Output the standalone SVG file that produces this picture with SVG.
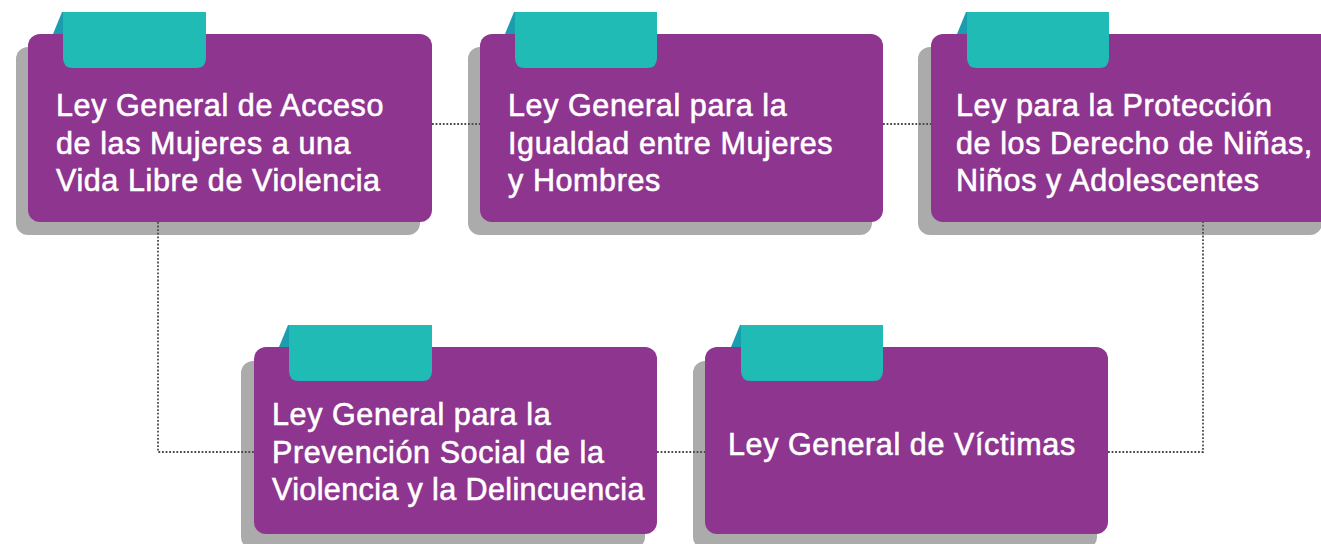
<svg xmlns="http://www.w3.org/2000/svg" width="1321" height="544" viewBox="0 0 1321 544">
<style>
.shadow{fill:#ababab}
.box{fill:#8e3590}
.tab{fill:#20bbb4}
.fold{fill:#1b9db0}
.conn{fill:none;stroke:#4a4a4a;stroke-width:1.8;stroke-dasharray:1.8 1.8}
.t{font-family:"Liberation Sans",Arial,sans-serif;font-size:30.5px;letter-spacing:0.6px;fill:#fff;stroke:#fff;stroke-width:0.6}
</style>
<rect width="1321" height="544" fill="#fff"/>
<g id="shadows">
<rect class="shadow" x="16" y="47" width="404" height="188" rx="12"/>
<rect class="shadow" x="468" y="47" width="404" height="188" rx="12"/>
<rect class="shadow" x="918" y="47" width="404" height="188" rx="12"/>
<rect class="shadow" x="241" y="361" width="404" height="188" rx="12"/>
<rect class="shadow" x="693" y="361" width="404" height="188" rx="12"/>
</g>
<g id="connectors">
<path class="conn" d="M432 124 H480"/>
<path class="conn" d="M883 124 H931"/>
<path class="conn" d="M158 222 V452 H254"/>
<path class="conn" d="M657 452 H705"/>
<path class="conn" d="M1108 452 H1203 V222"/>
</g>
<g id="node1">
<polygon class="fold" points="53,34 62,12 64,12 64,34"/>
<rect class="box" x="28" y="34" width="404" height="188" rx="12"/>
<path class="tab" d="M63 12 H206 V58 Q206 68 196 68 H73 Q63 68 63 58 Z"/>
<text class="t" x="56" y="116">Ley General de Acceso</text>
<text class="t" x="56" y="153.5">de las Mujeres a una</text>
<text class="t" x="56" y="191">Vida Libre de Violencia</text>
</g>
<g id="node2">
<polygon class="fold" points="505,34 514,12 516,12 516,34"/>
<rect class="box" x="480" y="34" width="403" height="188" rx="12"/>
<path class="tab" d="M515 12 H657 V58 Q657 68 647 68 H525 Q515 68 515 58 Z"/>
<text class="t" x="508" y="116">Ley General para la</text>
<text class="t" x="508" y="153.5">Igualdad entre Mujeres</text>
<text class="t" x="508" y="191">y Hombres</text>
</g>
<g id="node3">
<polygon class="fold" points="957,34 966,12 968,12 968,34"/>
<rect class="box" x="931" y="34" width="404" height="188" rx="12"/>
<path class="tab" d="M967 12 H1109 V58 Q1109 68 1099 68 H977 Q967 68 967 58 Z"/>
<text class="t" x="956" y="116">Ley para la Protección</text>
<text class="t" x="956" y="153.5">de los Derecho de Niñas,</text>
<text class="t" x="956" y="191">Niños y Adolescentes</text>
</g>
<g id="node4">
<polygon class="fold" points="279,347 288,325 290,325 290,347"/>
<rect class="box" x="254" y="347" width="403" height="187" rx="12"/>
<path class="tab" d="M289 325 H432 V371 Q432 381 422 381 H299 Q289 381 289 371 Z"/>
<text class="t" x="272" y="425">Ley General para la</text>
<text class="t" x="272" y="462.5">Prevención Social de la</text>
<text class="t" x="272" y="500" textLength="373" lengthAdjust="spacing">Violencia y la Delincuencia</text>
</g>
<g id="node5">
<polygon class="fold" points="731,347 740,325 742,325 742,347"/>
<rect class="box" x="705" y="347" width="403" height="187" rx="12"/>
<path class="tab" d="M741 325 H883 V371 Q883 381 873 381 H751 Q741 381 741 371 Z"/>
<text class="t" x="728" y="455">Ley General de Víctimas</text>
</g>
</svg>
